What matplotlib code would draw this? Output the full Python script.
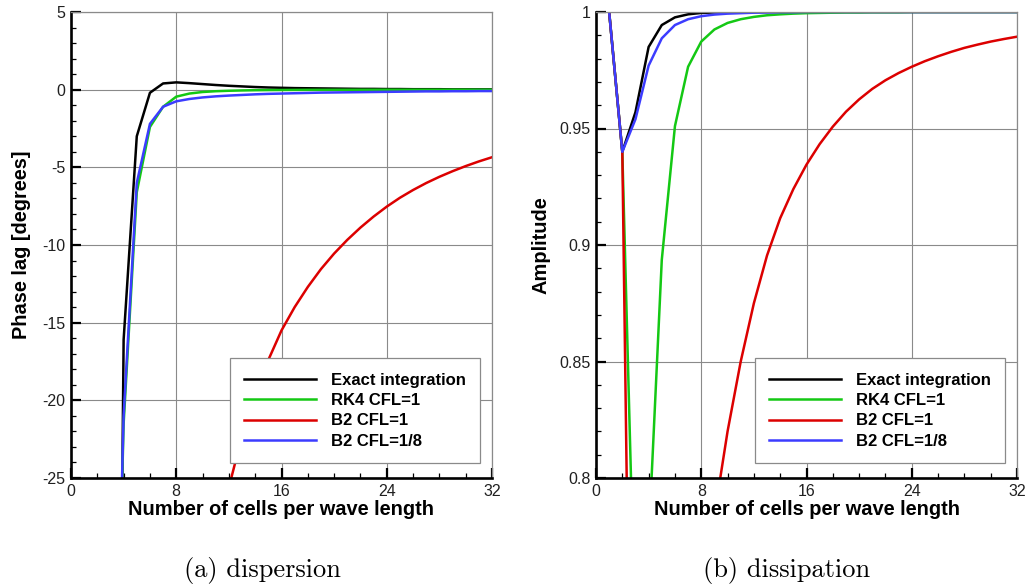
import numpy as np
import matplotlib
matplotlib.use("Agg")
import matplotlib.pyplot as plt
from matplotlib.ticker import MultipleLocator, FormatStrFormatter

plt.rcParams['font.family'] = ['Liberation Sans', 'DejaVu Sans']
plt.rcParams['axes.unicode_minus'] = False

# number of cells per wave length
cells_phase = list(range(3, 33))
cells_red_phase = list(range(10, 33))
cells_amp = list(range(1, 33))

# phase lag [degrees]
phase_exact = [-105, -16.1, -3.0, -0.2, 0.40, 0.47, 0.42, 0.36, 0.30, 0.25,
               0.21, 0.17, 0.14, 0.12, 0.10, 0.09, 0.08, 0.07, 0.06, 0.05,
               0.05, 0.04, 0.04, 0.03, 0.03, 0.03, 0.02, 0.02, 0.02, 0.02]
phase_rk4 = [-55, -21.5, -6.6, -2.4, -1.1, -0.45, -0.25, -0.15, -0.10, -0.07,
             -0.05, -0.035, -0.025, -0.02, -0.015, -0.01, -0.01, -0.008, -0.007, -0.006,
             -0.005, -0.004, -0.004, -0.003, -0.003, -0.002, -0.002, -0.002, -0.001, -0.001]
phase_b2_cfl1 = [-37, -30.5, -25.6, -22.3, -19.6, -17.4, -15.5, -14.0, -12.7, -11.55,
                 -10.55, -9.67, -8.88, -8.17, -7.53, -6.96, -6.46, -6.01, -5.61, -5.25,
                 -4.92, -4.62, -4.35]
phase_b2_cfl8 = [-54, -21.0, -6.0, -2.2, -1.1, -0.75, -0.60, -0.50, -0.43, -0.38,
                 -0.34, -0.30, -0.27, -0.25, -0.23, -0.21, -0.19, -0.18, -0.17, -0.16,
                 -0.15, -0.14, -0.13, -0.12, -0.11, -0.11, -0.10, -0.10, -0.09, -0.09]

# amplitude
amp_exact = [1.0, 0.940, 0.957, 0.985, 0.9944, 0.9977, 0.9990, 0.9996, 0.9998, 0.9999,
             1.0, 1.0, 1.0, 1.0, 1.0, 1.0, 1.0, 1.0, 1.0, 1.0,
             1.0, 1.0, 1.0, 1.0, 1.0, 1.0, 1.0, 1.0, 1.0, 1.0, 1.0, 1.0]
amp_rk4 = [1.0, 0.940, 0.728, 0.773, 0.8936, 0.951, 0.9765, 0.9873, 0.9925, 0.9953,
           0.9969, 0.9979, 0.9986, 0.9990, 0.9993, 0.9995, 0.9996, 0.9997, 0.9998, 0.9998,
           0.9999, 0.9999, 0.9999, 1.0, 1.0, 1.0, 1.0, 1.0, 1.0, 1.0, 1.0, 1.0]
amp_b2_cfl1 = [1.0, 0.940, 0.52, 0.45, 0.48, 0.55, 0.62, 0.70, 0.784, 0.820,
               0.850, 0.875, 0.8955, 0.9115, 0.9240, 0.9345, 0.9433, 0.9508, 0.9572, 0.9625,
               0.9670, 0.9707, 0.9738, 0.9765, 0.9789, 0.9810, 0.9829, 0.9846, 0.9860, 0.9873,
               0.9884, 0.9894]
amp_b2_cfl8 = [1.0, 0.940, 0.954, 0.977, 0.9887, 0.9944, 0.9969, 0.9982, 0.9989, 0.9993,
               0.9995, 0.9997, 0.9998, 0.9999, 0.9999, 1.0, 1.0, 1.0, 1.0, 1.0,
               1.0, 1.0, 1.0, 1.0, 1.0, 1.0, 1.0, 1.0, 1.0, 1.0, 1.0, 1.0]

labels = ['Exact integration', 'RK4 CFL=1', 'B2 CFL=1', 'B2 CFL=1/8']
colors = ['black', '#14c814', '#dc0000', '#3c3cff']
lw = 1.8


def style_axes(ax):
    ax.set_xlim(0, 32)
    ax.xaxis.set_major_locator(MultipleLocator(8))
    ax.xaxis.set_minor_locator(MultipleLocator(2))
    ax.grid(True, which='major', color='#8a8a8a', linewidth=0.8)
    ax.set_axisbelow(True)
    for side in ['top', 'right']:
        ax.spines[side].set_color('#8a8a8a')
        ax.spines[side].set_linewidth(0.9)
    for side in ['left', 'bottom']:
        ax.spines[side].set_color('black')
        ax.spines[side].set_linewidth(1.9)
    ax.tick_params(which='major', direction='in', length=7, width=1.6,
                   labelsize=11.5, pad=4, colors='black', labelcolor='#202020')
    ax.tick_params(which='minor', direction='in', length=3.8, width=0.9)
    ax.tick_params(top=False, right=False, which='both')
    ax.set_xlabel('Number of cells per wave length', fontsize=14.4,
                  fontweight='bold', labelpad=1)
    leg = ax.legend(loc='lower right', bbox_to_anchor=(0.972, 0.032),
                    borderaxespad=0, fancybox=False, framealpha=1,
                    edgecolor='#8a8a8a', handlelength=4.3, handletextpad=0.9,
                    borderpad=0.86, labelspacing=0.32,
                    prop={'weight': 'bold', 'size': 12})
    leg.get_frame().set_linewidth(0.9)


fig = plt.figure(figsize=(10.27, 5.88), dpi=100)
ax1 = fig.add_axes([71 / 1027, 1 - 478 / 588, 421 / 1027, 466 / 588])
ax2 = fig.add_axes([596 / 1027, 1 - 478 / 588, 421 / 1027, 466 / 588])

# dispersion
ax1.plot(cells_phase, phase_exact, color=colors[0], lw=lw, label=labels[0])
ax1.plot(cells_phase, phase_rk4, color=colors[1], lw=lw, label=labels[1])
ax1.plot(cells_red_phase, phase_b2_cfl1, color=colors[2], lw=lw, label=labels[2])
ax1.plot(cells_phase, phase_b2_cfl8, color=colors[3], lw=lw, label=labels[3])
ax1.set_ylim(-25, 5)
ax1.yaxis.set_major_locator(MultipleLocator(5))
ax1.yaxis.set_minor_locator(MultipleLocator(1))
ax1.set_ylabel('Phase lag [degrees]', fontsize=14.4, fontweight='bold', labelpad=8)
style_axes(ax1)

# dissipation
ax2.plot(cells_amp, amp_exact, color=colors[0], lw=lw, label=labels[0])
ax2.plot(cells_amp, amp_rk4, color=colors[1], lw=lw, label=labels[1])
ax2.plot(cells_amp, amp_b2_cfl1, color=colors[2], lw=lw, label=labels[2])
ax2.plot(cells_amp, amp_b2_cfl8, color=colors[3], lw=lw, label=labels[3])
ax2.set_ylim(0.8, 1.0)
ax2.yaxis.set_major_locator(MultipleLocator(0.05))
ax2.yaxis.set_minor_locator(MultipleLocator(0.01))
ax2.yaxis.set_major_formatter(FormatStrFormatter('%g'))
ax2.set_ylabel('Amplitude', fontsize=14.4, fontweight='bold', labelpad=6)
style_axes(ax2)

fig.text(262 / 1027, 1 - 570 / 588, '(a) dispersion', fontfamily='cmr10',
         fontsize=19, ha='center', va='center')
fig.text(787 / 1027, 1 - 570 / 588, '(b) dissipation', fontfamily='cmr10',
         fontsize=19, ha='center', va='center')

fig.savefig('out.png', dpi=100)
